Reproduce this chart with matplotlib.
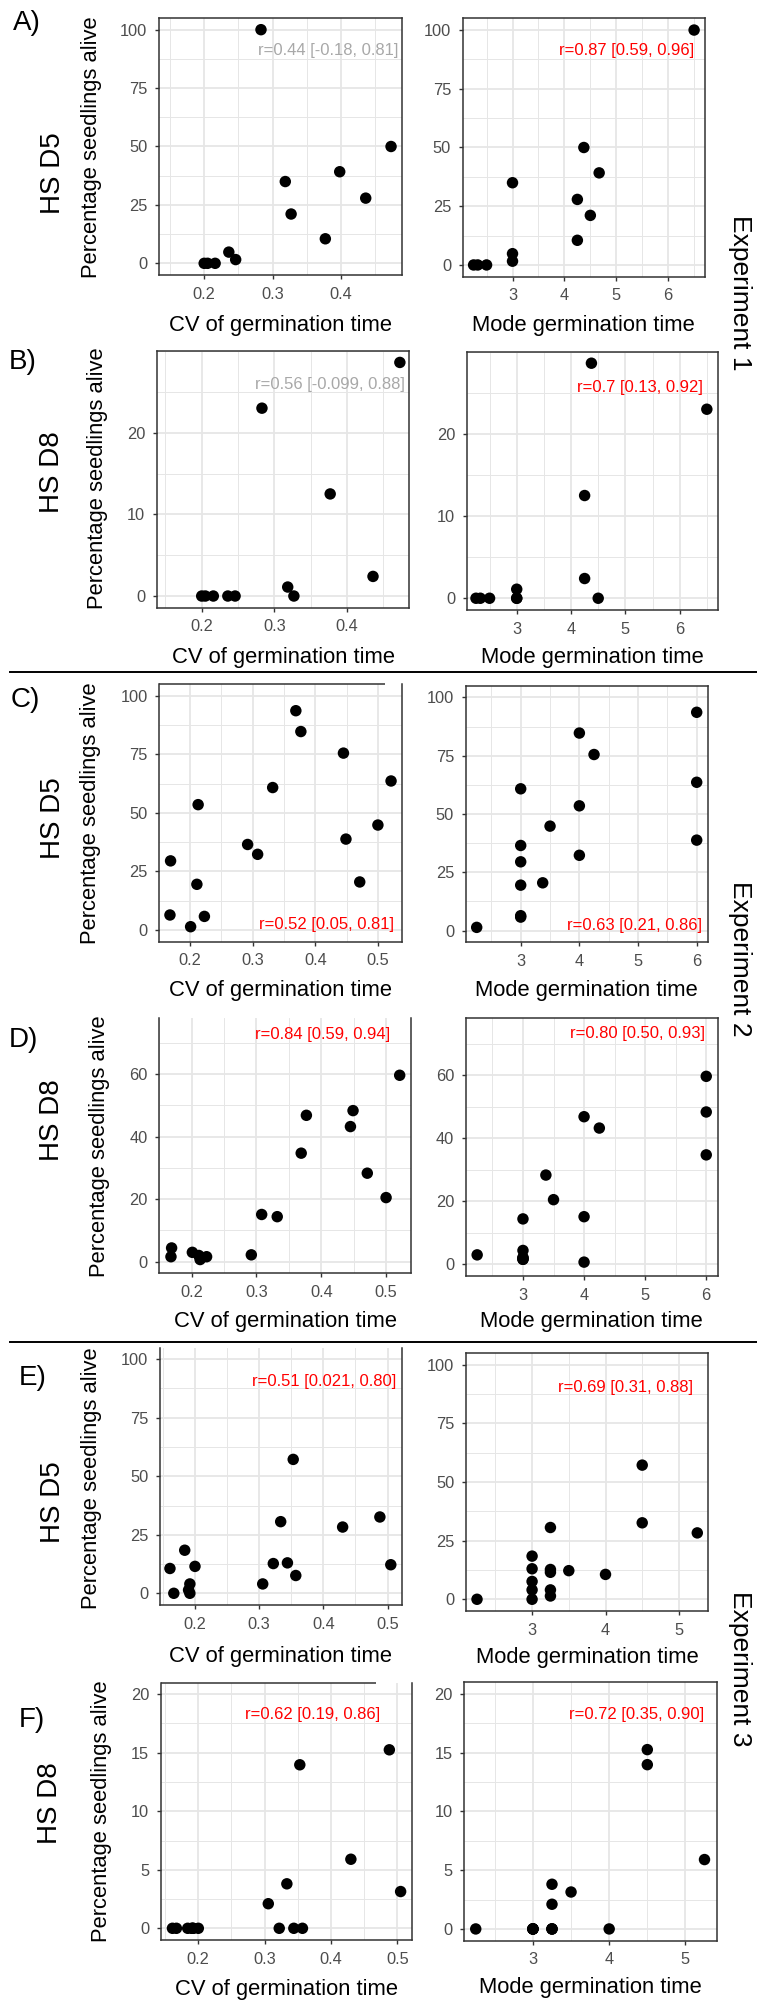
import numpy as np
import matplotlib
matplotlib.use("Agg")
import matplotlib.pyplot as plt
from matplotlib.lines import Line2D
from matplotlib.ticker import FixedLocator, MultipleLocator

plt.rcParams['font.family'] = ['Liberation Sans', 'DejaVu Sans']

nan = np.nan

# Experiment 1 (one entry per seed lot)
exp1_cv = [0.283, 0.473, 0.398, 0.3185, 0.436, 0.327, 0.377, 0.236, 0.246, 0.200, 0.205, 0.216]
exp1_mode = [6.5, 4.375, 4.67, 3.0, 4.25, 4.5, 4.25, 3.0, 3.0, 2.25, 2.33, 2.5]
exp1_d5 = [100, 50.0, 39.2, 35.0, 27.9, 21.1, 10.5, 4.8, 1.6, 0, 0, 0]
exp1_d8 = [23.0, 28.6, nan, 1.1, 2.4, 0, 12.5, 0, 0, 0, 0, 0]

# Experiment 2
exp2_cv = [0.369, 0.377, 0.445, 0.521, 0.332, 0.213, 0.500, 0.449,
           0.292, 0.308, 0.169, 0.471, 0.211, 0.168, 0.223, 0.201]
exp2_mode = [6, 4, 4.25, 6, 3, 4, 3.5, 6, 3, 4, 3, 3.375, 3, 3, 3, 2.25]
exp2_d5 = [93.6, 84.7, 75.5, 63.6, 60.8, 53.5, 44.8, 38.8,
           36.5, 32.3, 29.5, 20.5, 19.5, 6.4, 5.8, 1.4]
exp2_d8 = [34.7, 46.8, 43.2, 59.6, 14.4, 0.7, 20.5, 48.3,
           2.2, 15.1, 4.4, 28.3, 2.0, 1.6, 1.6, 3.0]

# Experiment 3
exp3_cv = [0.353, 0.488, 0.430, 0.3335, 0.505, 0.3055, 0.184, 0.357,
           0.161, 0.200, 0.322, 0.344, 0.192, 0.192, 0.167, 0.190]
exp3_mode = [4.5, 4.5, 5.25, 3.25, 3.5, 3.25, 3, 3,
             4, 3.25, 3.25, 3, 3, 2.25, 3, 3.25]
exp3_d5 = [57.2, 32.6, 28.3, 30.6, 12.2, 4.0, 18.4, 7.6,
           10.6, 11.5, 12.7, 13.0, 4.0, 0, 0, 1.4]
exp3_d8 = [13.97, 15.25, 5.9, 3.8, 3.14, 2.1, 0, 0,
           0, 0, 0, 0, 0, 0, 0, 0]

r_labels = ["r=0.44 [-0.18, 0.81]", "r=0.87 [0.59, 0.96]",
            "r=0.56 [-0.099, 0.88]", "r=0.7 [0.13, 0.92]",
            "r=0.52 [0.05, 0.81]", "r=0.63 [0.21, 0.86]",
            "r=0.84 [0.59, 0.94]", "r=0.80 [0.50, 0.93]",
            "r=0.51 [0.021, 0.80]", "r=0.69 [0.31, 0.88]",
            "r=0.62 [0.19, 0.86]", "r=0.72 [0.35, 0.90]"]
r_significant = [False, True, False, True, True, True,
                 True, True, True, True, True, True]

row_letters = ["A)", "B)", "C)", "D)", "E)", "F)"]
row_days = ["HS D5", "HS D8", "HS D5", "HS D8", "HS D5", "HS D8"]
experiments = ["Experiment 1", "Experiment 2", "Experiment 3"]

cv_ticks = [0.2, 0.3, 0.4, 0.5]
mode_ticks = [3, 4, 5, 6]

W, H = 757, 2002
fig = plt.figure(figsize=(W / 100, H / 100), dpi=100)


def fbox(x0, y0, x1, y1):
    return [x0 / W, 1 - y1 / H, (x1 - x0) / W, (y1 - y0) / H]


def ftext(x, y, s, **kw):
    fig.text(x / W, 1 - y / H, s, **kw)


GRID = '#E6E6E6'
EDGE = '#333333'
TICKC = '#4D4D4D'
GREY_LAB = '#A8A8A8'

panels = [
    # row A
    dict(box=(159, 18, 402, 275), x=exp1_cv, y=exp1_d5, xlim=(0.134, 0.489), ylim=(-5, 105),
         xt=cv_ticks, yt=[0, 25, 50, 75, 100], xs=0.05, ys=12.5, lab=(398, 50), top=1.0,
         xl='CV of germination time', xly=325),
    dict(box=(462.7, 18.3, 705, 276.7), x=exp1_mode, y=exp1_d5, xlim=(2.04, 6.71), ylim=(-5, 105),
         xt=mode_ticks, yt=[0, 25, 50, 75, 100], xs=0.5, ys=12.5, lab=(694, 50), top=1.0,
         xl='Mode germination time', xly=325),
    # row B
    dict(box=(156.7, 351, 409.3, 607.7), x=exp1_cv, y=exp1_d8, xlim=(0.138, 0.486), ylim=(-1.43, 30.0),
         xt=cv_ticks, yt=[0, 10, 20], xs=0.05, ys=5, lab=(405, 385), top=1.0,
         xl='CV of germination time', xly=657),
    dict(box=(466.7, 351.7, 718.3, 610), x=exp1_mode, y=exp1_d8, xlim=(2.079, 6.711), ylim=(-1.43, 30.0),
         xt=mode_ticks, yt=[0, 10, 20], xs=0.5, ys=5, lab=(703, 387.7), top=1.0,
         xl='Mode germination time', xly=658),
    # row C
    dict(box=(159.3, 684, 401.7, 941.7), x=exp2_cv, y=exp2_d5, xlim=(0.151, 0.538), ylim=(-5, 105),
         xt=cv_ticks, yt=[0, 25, 50, 75, 100], xs=0.05, ys=12.5, lab=(394, 924.3), top=0.931,
         xl='CV of germination time', xly=990.7),
    dict(box=(465.7, 685.7, 707.7, 942.3), x=exp2_mode, y=exp2_d5, xlim=(2.0625, 6.1875), ylim=(-5, 105),
         xt=mode_ticks, yt=[0, 25, 50, 75, 100], xs=0.5, ys=12.5, lab=(701.7, 925.7), top=1.0,
         xl='Mode germination time', xly=990.7),
    # row D
    dict(box=(159.3, 1017.7, 410.7, 1273.3), x=exp2_cv, y=exp2_d8, xlim=(0.150, 0.538), ylim=(-3.7, 78),
         xt=cv_ticks, yt=[0, 20, 40, 60], xs=0.05, ys=10, lab=(390, 1035), top=0.0,
         xl='CV of germination time', xly=1321.7),
    dict(box=(465.7, 1018.3, 717.7, 1276), x=exp2_mode, y=exp2_d8, xlim=(2.0625, 6.1875), ylim=(-3.7, 78),
         xt=mode_ticks, yt=[0, 20, 40, 60], xs=0.5, ys=10, lab=(705, 1033.3), top=1.0,
         xl='Mode germination time', xly=1321.7),
    # row E
    dict(box=(160, 1347.5, 401.7, 1605), x=exp3_cv, y=exp3_d5, xlim=(0.1455, 0.522), ylim=(-5, 105),
         xt=cv_ticks, yt=[0, 25, 50, 75, 100], xs=0.05, ys=12.5, lab=(396, 1381.7), top=0.0,
         xl='CV of germination time', xly=1656.7),
    dict(box=(466, 1353, 708.3, 1611), x=exp3_mode, y=exp3_d5, xlim=(2.1, 5.4), ylim=(-5, 105),
         xt=mode_ticks, yt=[0, 25, 50, 75, 100], xs=0.5, ys=12.5, lab=(693.3, 1387.7), top=1.0,
         xl='Mode germination time', xly=1658),
    # row F
    dict(box=(160.7, 1682.5, 411.7, 1940), x=exp3_cv, y=exp3_d8, xlim=(0.1433, 0.5217), ylim=(-1, 21),
         xt=cv_ticks, yt=[0, 5, 10, 15, 20], xs=0.05, ys=2.5, lab=(380, 1715), top=0.856,
         xl='CV of germination time', xly=1990),
    dict(box=(464.3, 1682, 716.7, 1940.7), x=exp3_mode, y=exp3_d8, xlim=(2.1, 5.41), ylim=(-1, 21),
         xt=mode_ticks, yt=[0, 5, 10, 15, 20], xs=0.5, ys=2.5, lab=(704.3, 1715), top=1.0,
         xl='Mode germination time', xly=1988),
]

for i, p in enumerate(panels):
    ax = fig.add_axes(fbox(*p['box']))
    ax.set_xlim(*p['xlim'])
    ax.set_ylim(*p['ylim'])
    ax.xaxis.set_major_locator(FixedLocator(p['xt']))
    ax.yaxis.set_major_locator(FixedLocator(p['yt']))
    ax.xaxis.set_minor_locator(MultipleLocator(p['xs']))
    ax.yaxis.set_minor_locator(MultipleLocator(p['ys']))
    ax.set_axisbelow(True)
    ax.grid(which='major', color=GRID, lw=1.3)
    ax.grid(which='minor', color=GRID, lw=0.7)
    ax.tick_params(which='major', length=2.9, width=1.0, color=EDGE,
                   labelcolor=TICKC, labelsize=11.8, pad=5.5)
    ax.tick_params(which='minor', length=0)
    for sp in ax.spines.values():
        sp.set_color(EDGE)
        sp.set_linewidth(1.1)
    if p['top'] < 1.0:
        ax.spines['top'].set_visible(False)
        if p['top'] > 0:
            ax.plot([0, p['top']], [1, 1], transform=ax.transAxes, color=EDGE,
                    lw=1.1, clip_on=False, solid_capstyle='butt')
    ax.scatter(p['x'], p['y'], s=68, c='black', edgecolors='none', zorder=3, clip_on=False)

    color = 'red' if r_significant[i] else GREY_LAB
    ftext(p['lab'][0], p['lab'][1], r_labels[i], ha='right', va='center',
          fontsize=12, color=color)

    x0, y0, x1, y1 = p['box']
    ftext((x0 + x1) / 2, p['xly'], p['xl'], ha='center', va='center', fontsize=15.8)

# Row annotations: panel letter, heat-stress day and y-axis title
letter_xy = [(27, 23), (23, 362), (25, 700), (23, 1040), (33, 1378), (32, 1720)]
day_xy = [(53, 173), (52, 472), (53, 818), (52, 1120), (53, 1502), (50, 1803)]
ylab_xy = [(92, 147), (97, 478), (91, 813), (100, 1146), (92, 1478), (102, 1811)]
for k in range(6):
    ftext(*letter_xy[k], row_letters[k], ha='center', va='center', fontsize=20)
    ftext(*day_xy[k], row_days[k], ha='center', va='center', fontsize=20, rotation=90)
    ftext(*ylab_xy[k], 'Percentage seedlings alive', ha='center', va='center',
          fontsize=15.8, rotation=90)

exp_y = [293, 959, 1669]
for k in range(3):
    ftext(740, exp_y[k], experiments[k], ha='center', va='center', fontsize=19, rotation=270)

# Horizontal separators between experiments
for yy in [672.3, 1341.7]:
    fig.add_artist(Line2D([10 / W, 1.0], [1 - yy / H, 1 - yy / H], color='black', lw=1.4))

fig.savefig('out.png', dpi=100)
